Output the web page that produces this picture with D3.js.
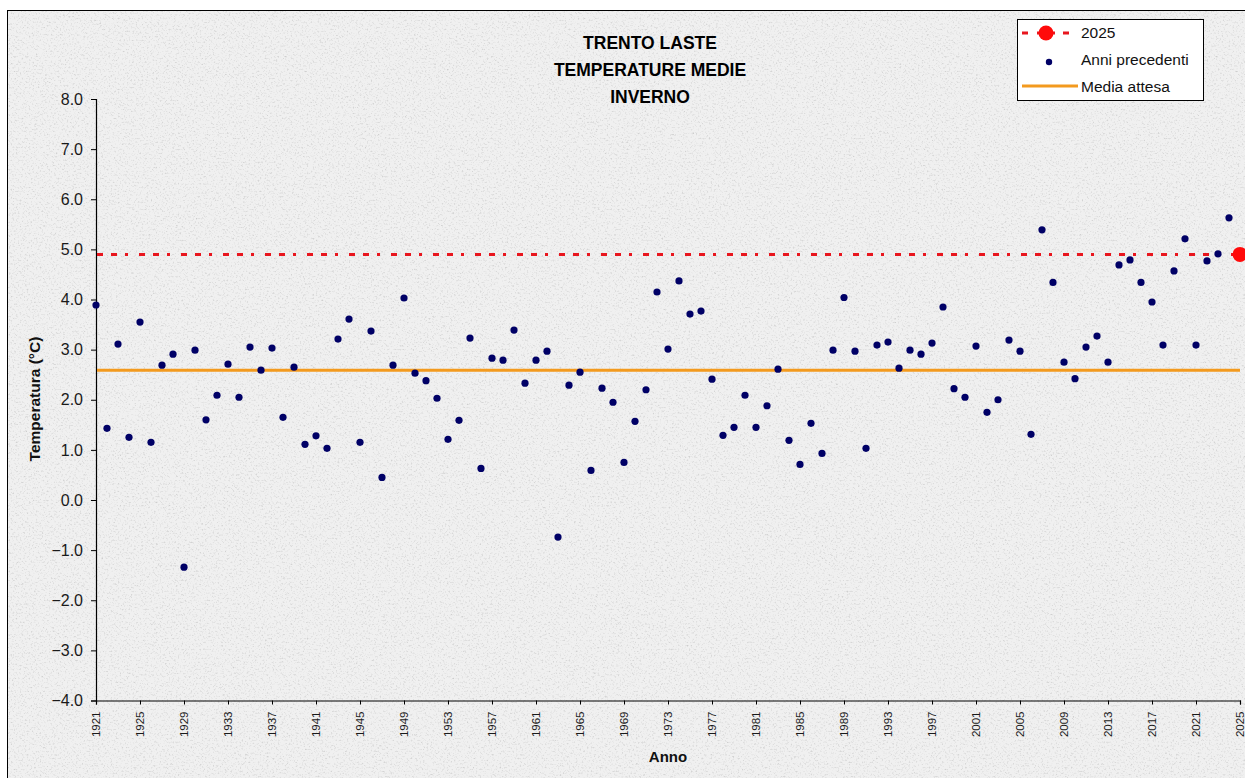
<!DOCTYPE html>
<html>
<head>
<meta charset="utf-8">
<script src="https://cdn.jsdelivr.net/npm/d3@7"></script>
<style>
  html, body { margin: 0; padding: 0; background: #ffffff; overflow: hidden; }
  svg { display: block; font-family: Arial, "Liberation Sans", sans-serif; }
</style>
</head>
<body>
<svg id="chart" width="1245" height="778"></svg>
<script>
// ---- data ----
const years = d3.range(1921, 2025); // 1921..2024 (anni precedenti)
const temps = [
  3.89, 1.43, 3.11, 1.25, 3.55, 1.15, 2.69, 2.91, -1.34, 2.99,
  1.60, 2.09, 2.71, 2.05, 3.05, 2.59, 3.03, 1.65, 2.65, 1.11,
  1.28, 1.03, 3.21, 3.61, 1.15, 3.37, 0.45, 2.69, 4.03, 2.53,
  2.38, 2.03, 1.21, 1.59, 3.23, 0.63, 2.83, 2.79, 3.39, 2.33,
  2.79, 2.97, -0.74, 2.29, 2.55, 0.59, 2.23, 1.95, 0.75, 1.57,
  2.20, 4.15, 3.01, 4.37, 3.71, 3.77, 2.41, 1.29, 1.45, 2.09,
  1.45, 1.88, 2.61, 1.19, 0.71, 1.53, 0.93, 2.99, 4.04, 2.97,
  1.03, 3.09, 3.15, 2.63, 2.99, 2.91, 3.13, 3.85, 2.22, 2.05,
  3.07, 1.75, 2.00, 3.19, 2.97, 1.31, 5.39, 4.34, 2.75, 2.42,
  3.05, 3.27, 2.75, 4.69, 4.79, 4.34, 3.95, 3.09, 4.57, 5.21,
  3.09, 4.77, 4.91, 5.63
];
const currentYear = 2025;
const currentTemp = 4.90;
const mediaAttesa = 2.59;
const yTicks = [-4, -3, -2, -1, 0, 1, 2, 3, 4, 5, 6, 7, 8];
const xTicks = d3.range(1921, 2026, 4);
const titleLines = ["TRENTO LASTE", "TEMPERATURE MEDIE", "INVERNO"];
const legendLabels = ["2025", "Anni precedenti", "Media attesa"];

// ---- layout ----
const svg = d3.select("#chart");
const W = 1245, H = 778;
const plotLeft = 96, plotRight = 1240, plotTop = 99, plotBottom = 700.5;

const x = d3.scaleLinear().domain([1921, 2025]).range([plotLeft, plotRight]);
const y = d3.scaleLinear().domain([-4, 8]).range([plotBottom, plotTop]);

// background texture
const defs = svg.append("defs");
const f = defs.append("filter").attr("id", "granite")
  .attr("x", 0).attr("y", 0).attr("width", "100%").attr("height", "100%");
f.append("feTurbulence").attr("type", "fractalNoise")
  .attr("baseFrequency", 0.55).attr("numOctaves", 3).attr("seed", 7).attr("result", "noise");
f.append("feColorMatrix").attr("in", "noise").attr("type", "matrix")
  .attr("values", "0 0 0 0 0.58  0 0 0 0 0.58  0 0 0 0 0.58  -2.2 0 0 0 1.05")
  .attr("result", "speck");
f.append("feFlood").attr("flood-color", "#f0f0f0").attr("result", "base");
f.append("feComposite").attr("in", "speck").attr("in2", "base").attr("operator", "over");

svg.append("rect").attr("x", 0).attr("y", 0).attr("width", W).attr("height", H).attr("fill", "#ffffff");
svg.append("rect").attr("x", 7.5).attr("y", 10.5).attr("width", W + 20).attr("height", H + 20)
  .attr("fill", "#ededed").attr("filter", "url(#granite)");
svg.append("rect").attr("x", 7.5).attr("y", 10.5).attr("width", W + 20).attr("height", H + 20)
  .attr("fill", "none").attr("stroke", "#000").attr("stroke-width", 1);

// axes
const yAxis = d3.axisLeft(y).tickValues(yTicks).tickFormat(d3.format(".1f")).tickSize(5).tickPadding(8);
const gy = svg.append("g").attr("transform", `translate(${plotLeft},0)`).call(yAxis);
gy.select(".domain").attr("stroke", "#000").attr("stroke-width", 1.2);
gy.selectAll(".tick line").attr("stroke", "#000");
gy.selectAll(".tick text").attr("font-size", 16).attr("fill", "#1a1a1a")
  .attr("font-family", "Arial, 'Liberation Sans', sans-serif");

const xAxis = d3.axisBottom(x).tickValues(xTicks).tickFormat(d3.format("d")).tickSize(4).tickPadding(5);
const gx = svg.append("g").attr("transform", `translate(0,${plotBottom})`).call(xAxis);
gx.select(".domain").attr("stroke", "#000").attr("stroke-width", 1.2);
gx.selectAll(".tick line").attr("stroke", "#000");
gx.selectAll(".tick text")
  .attr("font-size", 11.5).attr("fill", "#1a1a1a")
  .attr("font-family", "Arial, 'Liberation Sans', sans-serif")
  .attr("transform", "rotate(-90)")
  .attr("text-anchor", "end")
  .attr("x", -11).attr("y", 0).attr("dy", "0.3em");

// axis titles
svg.append("text").attr("x", 668).attr("y", 762).attr("text-anchor", "middle")
  .attr("font-weight", "bold").attr("font-size", 15).attr("fill", "#111").text("Anno");
svg.append("text").attr("transform", "translate(40,399) rotate(-90)").attr("text-anchor", "middle")
  .attr("font-weight", "bold").attr("font-size", 15.5).attr("fill", "#111").text("Temperatura (°C)");

// title
svg.append("g").selectAll("text").data(titleLines).join("text")
  .attr("x", 650).attr("y", (d, i) => 49 + i * 27)
  .attr("text-anchor", "middle").attr("font-weight", "bold").attr("font-size", 17.5)
  .attr("fill", "#000").text(d => d);

// lines
const redDash = "6,8,6,8,3,11";
svg.append("line").attr("x1", plotLeft + 1).attr("x2", plotRight)
  .attr("y1", y(currentTemp)).attr("y2", y(currentTemp))
  .attr("stroke", "#e8161e").attr("stroke-width", 3).attr("stroke-dasharray", redDash);
svg.append("line").attr("x1", plotLeft + 1).attr("x2", plotRight)
  .attr("y1", y(mediaAttesa)).attr("y2", y(mediaAttesa))
  .attr("stroke", "#f39a1e").attr("stroke-width", 3);

// points
svg.append("g").selectAll("circle").data(years.map((yr, i) => [yr, temps[i]])).join("circle")
  .attr("cx", d => x(d[0])).attr("cy", d => y(d[1])).attr("r", 3.6)
  .attr("fill", "#000066");
svg.append("circle").attr("cx", x(currentYear)).attr("cy", y(currentTemp)).attr("r", 7.5)
  .attr("fill", "#ff0a0a");

// legend
const lg = svg.append("g");
lg.append("rect").attr("x", 1017.5).attr("y", 19.5).attr("width", 186).attr("height", 81)
  .attr("fill", "#ffffff").attr("stroke", "#000").attr("stroke-width", 1);
const lx1 = 1022, lx2 = 1078, tx = 1081;
const rows = [33, 60, 87];
lg.append("line").attr("x1", lx1).attr("x2", lx2).attr("y1", rows[0]).attr("y2", rows[0])
  .attr("stroke", "#e8161e").attr("stroke-width", 3).attr("stroke-dasharray", "6,9,6,9,3,8");
lg.append("circle").attr("cx", 1046).attr("cy", rows[0]).attr("r", 7.5).attr("fill", "#ff0a0a");
lg.append("circle").attr("cx", 1049).attr("cy", rows[1] + 2).attr("r", 3.2).attr("fill", "#000066");
lg.append("line").attr("x1", lx1).attr("x2", lx2).attr("y1", rows[2] - 1).attr("y2", rows[2] - 1)
  .attr("stroke", "#f39a1e").attr("stroke-width", 3);
lg.selectAll("text.leg").data(legendLabels).join("text").attr("class", "leg")
  .attr("x", tx).attr("y", (d, i) => rows[i] + 5)
  .attr("font-size", 15.5).attr("fill", "#111").text(d => d);
</script>
</body>
</html>
